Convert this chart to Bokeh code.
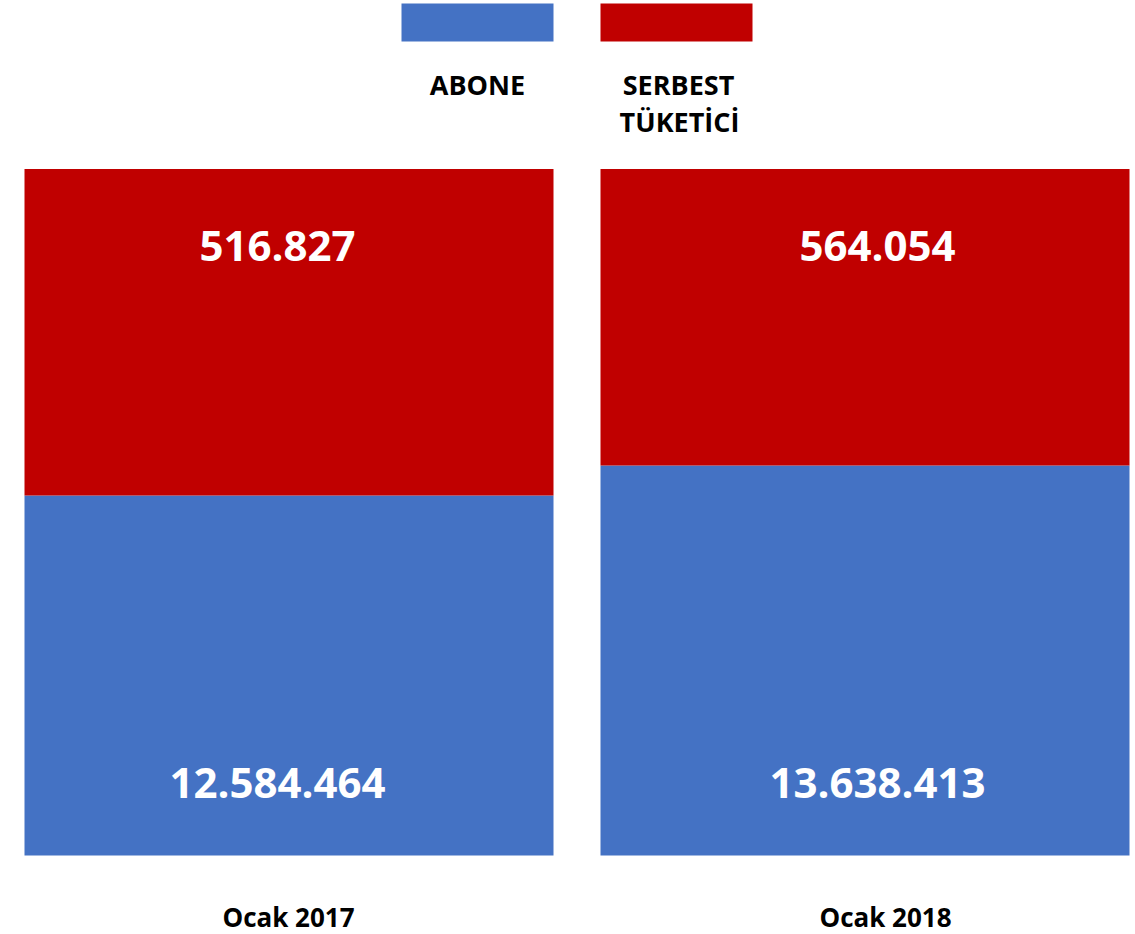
from bokeh.plotting import figure
from bokeh.models import Range1d, ColumnDataSource
from bokeh.core.properties import value
from bokeh.embed import file_html
from bokeh.resources import INLINE

# ---- data ----
categories = ["Ocak 2017", "Ocak 2018"]
abone = [12584464, 13638413]
serbest_tuketici = [516827, 564054]
series_names = ["ABONE", "SERBEST\nTÜKETİCİ"]
colors = ["#4472C4", "#C00000"]

# ---- layout (pixel geometry) ----
W, H = 1135, 934
PX_PER_CAT = 576.0
FIRST_CENTER_PX = 288.5
BASE_PX = 855.0
PX_PER_UNIT = 28.6e-6
X_START = -FIRST_CENTER_PX / PX_PER_CAT
X_END = X_START + W / PX_PER_CAT
Y_END = BASE_PX / PX_PER_UNIT
Y_START = -(H - BASE_PX) / PX_PER_UNIT
TOP = 24.0e6  # common top of the stacked panels


def fx(px):
    return X_START + px / PX_PER_CAT


def fy(px):
    return Y_END - px / H * (Y_END - Y_START)


def fmt(v):
    return f"{v:,}".replace(",", ".")


FONT = value("Open Sans")

p = figure(width=W, height=H, output_backend="svg", toolbar_location=None,
           x_range=Range1d(X_START, X_END), y_range=Range1d(Y_START, Y_END),
           min_border=0, outline_line_color=None)
p.axis.visible = False
p.grid.visible = False
p.background_fill_color = "white"

idx = list(range(len(categories)))
BAR_W = 529 / PX_PER_CAT

src = ColumnDataSource(dict(
    x=idx, abone=abone, serbest=serbest_tuketici, top=[TOP] * len(idx),
    abone_lbl=[fmt(v) for v in abone],
    serbest_lbl=[fmt(v) for v in serbest_tuketici],
    cat=categories,
))

p.vbar(x="x", width=BAR_W, bottom=0, top="abone", source=src,
       fill_color=colors[0], line_color=None)
p.vbar(x="x", width=BAR_W, bottom="abone", top="top", source=src,
       fill_color=colors[1], line_color=None)

# value labels
lbl_x = [fx(277), fx(877)]
p.text(x=lbl_x, y=[fy(245)] * 2, text=src.data["serbest_lbl"],
       text_color="white", text_font=FONT, text_font_style="bold",
       text_font_size="42px", text_align="center", text_baseline="middle")
p.text(x=lbl_x, y=[fy(782)] * 2, text=src.data["abone_lbl"],
       text_color="white", text_font=FONT, text_font_style="bold",
       text_font_size="42px", text_align="center", text_baseline="middle")

# category labels
p.text(x=[fx(288), fx(885)], y=[fy(916)] * 2, text=categories,
       text_color="black", text_font=FONT, text_font_style="bold",
       text_font_size="26px", text_align="center", text_baseline="middle")

# legend
p.quad(left=[fx(401), fx(600)], right=[fx(553), fx(752)],
       top=[fy(3)] * 2, bottom=[fy(41)] * 2,
       fill_color=colors, line_color=None)
p.text(x=[fx(477), fx(678)], y=[fy(84), fy(84)], text=[series_names[0], series_names[1].split("\n")[0]],
       text_color="black", text_font=FONT, text_font_style="bold",
       text_font_size="27px", text_align="center", text_baseline="middle")
p.text(x=[fx(679)], y=[fy(121)], text=[series_names[1].split("\n")[1]],
       text_color="black", text_font=FONT, text_font_style="bold",
       text_font_size="27px", text_align="center", text_baseline="middle")

open("out.html", "w").write(file_html(p, INLINE))
